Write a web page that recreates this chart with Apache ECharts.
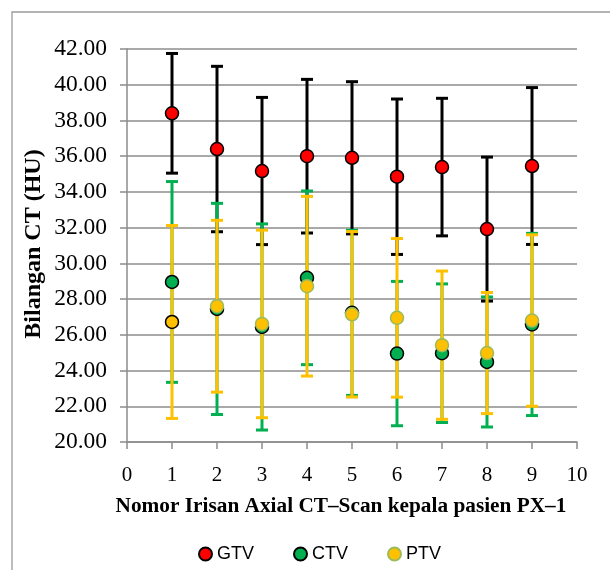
<!DOCTYPE html>
<html>
<head>
<meta charset="utf-8">
<script src="https://cdn.jsdelivr.net/npm/echarts@6/dist/echarts.min.js"></script>
<style>
html,body{margin:0;padding:0;background:#fff;}
#chart{width:610px;height:570px;}
</style>
</head>
<body>
<div id="chart"></div>
<script>
const slices = [1, 2, 3, 4, 5, 6, 7, 8, 9];
const gtvMean = [38.40, 36.40, 35.17, 36.00, 35.91, 34.85, 35.39, 31.92, 35.45];
const gtvSD   = [3.35, 4.63, 4.12, 4.30, 4.26, 4.35, 3.85, 4.03, 4.39];
const ctvMean = [28.96, 27.45, 26.44, 29.19, 27.23, 24.95, 24.97, 24.48, 26.58];
const ctvSD   = [5.62, 5.91, 5.77, 4.86, 4.62, 4.04, 3.88, 3.64, 5.10];
const ptvMean = [26.72, 27.60, 26.61, 28.72, 27.15, 26.95, 25.42, 24.98, 26.80];
const ptvSD   = [5.40, 4.81, 5.25, 5.03, 4.63, 4.44, 4.15, 3.39, 4.80];
const seriesNames = ['GTV', 'CTV', 'PTV'];
const xTitle = 'Nomor Irisan Axial CT\u2013Scan kepala pasien PX\u20131';
const yTitle = 'Bilangan CT (HU)';

const chart = echarts.init(document.getElementById('chart'));

function errData(means, sds) {
  return slices.map((x, i) => [x, means[i] - sds[i], means[i] + sds[i]]);
}
function ptData(means) {
  return slices.map((x, i) => [x, means[i]]);
}
function errSeries(name, means, sds, color) {
  return {
    name: name, type: 'custom', z: 2, silent: true,
    data: errData(means, sds),
    renderItem: function (params, api) {
      const x = api.value(0), lo = api.value(1), hi = api.value(2);
      const a = api.coord([x, lo]), b = api.coord([x, hi]);
      const w = 6;
      const st = { stroke: color, lineWidth: 3 };
      return {
        type: 'group',
        children: [
          { type: 'line', shape: { x1: a[0], y1: a[1], x2: b[0], y2: b[1] }, style: st },
          { type: 'line', shape: { x1: a[0] - w, y1: a[1], x2: a[0] + w, y2: a[1] }, style: st },
          { type: 'line', shape: { x1: b[0] - w, y1: b[1], x2: b[0] + w, y2: b[1] }, style: st }
        ]
      };
    }
  };
}

const ptvPoints = ptData(ptvMean).map((d, i) => i === 0
  ? { value: d, itemStyle: { borderColor: '#000000' } }
  : { value: d });

const axisGray = '#8c8c8c';
chart.setOption({
  animation: false,
  backgroundColor: '#ffffff',
  grid: { left: 127, right: 33, top: 49, bottom: 128, containLabel: false },
  xAxis: {
    type: 'value', min: 0, max: 10, interval: 1,
    axisLine: { show: true, lineStyle: { color: axisGray, width: 1.5 } },
    axisTick: { show: true, inside: false, length: 7, lineStyle: { color: axisGray, width: 1.5 } },
    splitLine: { show: false },
    axisLabel: { margin: 23, color: '#000', fontFamily: 'Liberation Serif', fontSize: 21 }
  },
  yAxis: {
    type: 'value', min: 20, max: 42, interval: 2,
    axisLine: { show: true, lineStyle: { color: axisGray, width: 1.5 } },
    axisTick: { show: true, inside: false, length: 7, lineStyle: { color: axisGray, width: 1.5 } },
    splitLine: { show: true, lineStyle: { color: axisGray, width: 1.5 } },
    axisLabel: { margin: 20, color: '#000', fontFamily: 'Liberation Serif', fontSize: 23.5,
      formatter: v => v.toFixed(2) }
  },
  legend: {
    data: seriesNames, left: 193, top: 540, itemWidth: 13, itemHeight: 13, itemGap: 39,
    icon: 'circle',
    textStyle: { fontFamily: 'Liberation Sans', fontSize: 18, color: '#000' }
  },
  graphic: [
    { type: 'rect', shape: { x: 12, y: 12, width: 700, height: 700 }, style: { fill: 'none', stroke: '#9a9a9a', lineWidth: 1.3 }, z: 0 },
    { type: 'text', x: 341, y: 506, style: { text: xTitle, font: 'bold 21.3px "Liberation Serif"', fill: '#000', align: 'center', verticalAlign: 'middle' } },
    { type: 'text', x: 34, y: 244, rotation: Math.PI / 2, style: { text: yTitle, font: 'bold 24px "Liberation Serif"', fill: '#000', align: 'center', verticalAlign: 'middle' } }
  ],
  series: [
    errSeries('GTV SD', gtvMean, gtvSD, '#000000'),
    errSeries('CTV SD', ctvMean, ctvSD, '#00B050'),
    errSeries('PTV SD', ptvMean, ptvSD, '#FFC000'),
    { name: 'GTV', type: 'scatter', z: 3, symbol: 'circle', symbolSize: 13, data: ptData(gtvMean),
      itemStyle: { color: '#FF0000', borderColor: '#000000', borderWidth: 1.5, opacity: 1 } },
    { name: 'CTV', type: 'scatter', z: 3, symbol: 'circle', symbolSize: 13, data: ptData(ctvMean),
      itemStyle: { color: '#00B050', borderColor: '#000000', borderWidth: 1.5, opacity: 1 } },
    { name: 'PTV', type: 'scatter', z: 3, symbol: 'circle', symbolSize: 13, data: ptvPoints,
      itemStyle: { color: '#FFC000', borderColor: '#9BBB59', borderWidth: 1.5, opacity: 1 } }
  ]
});
</script>
</body>
</html>
